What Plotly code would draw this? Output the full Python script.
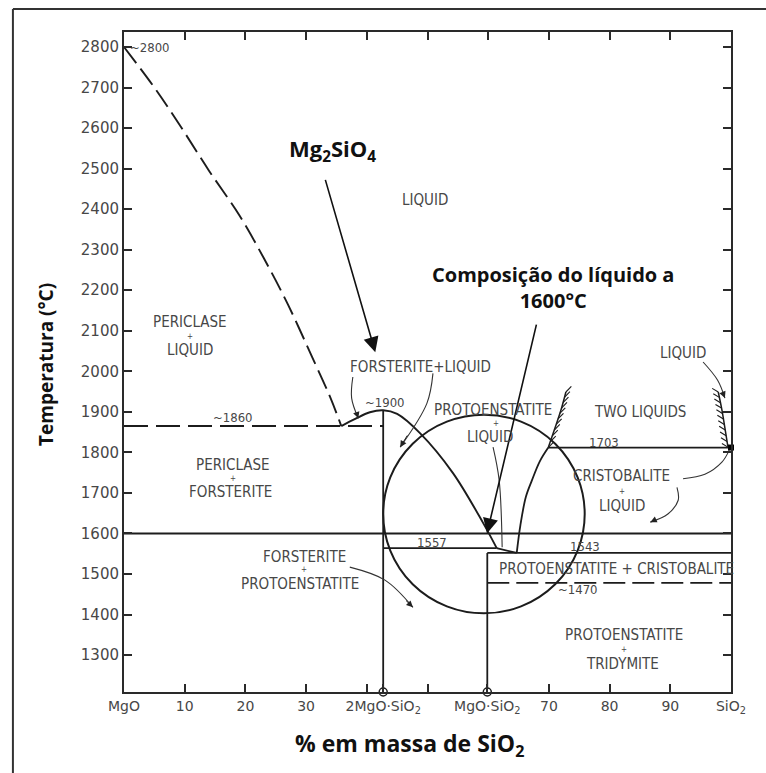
import numpy as np
import plotly.graph_objects as go

# ---------------- axis values ----------------
x_tickvals = [0, 10, 20, 30, 42.7, 59.85, 70, 80, 90, 100]
x_ticktext = ["MgO", "10", "20", "30", "2MgO·SiO<sub>2</sub>", "MgO·SiO<sub>2</sub>",
              "70", "80", "90", "SiO<sub>2</sub>"]
x_minor_ticks = [40, 50]
x_top_ticks = [10, 20, 30, 40, 50, 60, 70, 80, 90]
y_tickvals = list(range(1300, 2900, 100))
x_range = [0, 100]
y_range = [1209, 2837]

# ---------------- compounds ----------------
forsterite_x = 42.7
enstatite_x = 59.85

# ---------------- phase boundaries (wt% SiO2, temperature as drawn) ----------------
periclase_liq_x = [0, 5, 9.5, 14, 19, 23, 27, 31, 34, 35.8]
periclase_liq_t = [2800, 2700, 2600, 2495, 2385, 2280, 2165, 2035, 1935, 1865]

eutectic1_x = [0, 42.7]
eutectic1_t = [1865, 1865]

forst_liq_x = [35.8, 38, 40.5, 42.7, 45, 48.8, 54.2, 59.2, 61.4]
forst_liq_t = [1865, 1882, 1899, 1904, 1895, 1847, 1749, 1625, 1564]

proto_liq_x = [61.4, 64.7]
proto_liq_t = [1564, 1552]

cristo_liq_x = [64.7, 65.3, 66.2, 67.2, 68.5, 69.9]
cristo_liq_t = [1552, 1620, 1690, 1731, 1778, 1812]

iso1600_x = [0, 100]
iso1600_t = [1600, 1600]

peritectic_x = [42.7, 61.4]
peritectic_t = [1564, 1564]

eutectic2_x = [59.85, 100]
eutectic2_t = [1552, 1552]

inversion_x = [59.85, 100]
inversion_t = [1478, 1478]

monotectic_x = [69.9, 100]
monotectic_t = [1812, 1812]

forst_vert_t = [1209, 1904]
enst_vert_t = [1209, 1552]

gap_left_x = [69.9, 71.0, 72.0, 72.8]
gap_left_t = [1812, 1860, 1905, 1949]
gap_right_x = [99.5, 99.0, 98.5, 97.9]
gap_right_t = [1813, 1860, 1905, 1949]

# circle (centre and semi-axes in data units)
circle_cx, circle_ct = 59.3, 1648
circle_rx, circle_rt = 16.6, 245

# ---------------- leader curves ----------------
leaders = [
    ([37.7, 37.5, 38.6], [1986, 1934, 1884]),            # forsterite+liquid (left)
    ([50.9, 49.9, 45.5], [1995, 1921, 1813]),            # forsterite+liquid (right)
    ([60.8, 61.8, 62.3], [1813, 1732, 1566]),            # protoenstatite+liquid
    ([92.1, 95.7, 98.5, 99.7], [1735, 1746, 1776, 1805]), # cristobalite -> 1723
    ([91.1, 91.3, 89.6, 86.7], [1714, 1682, 1648, 1628]), # cristobalite+liquid
    ([95.4, 97.8, 99.0], [2023, 1978, 1934]),            # liquid (near SiO2)
    ([37.2, 43.0, 47.6], [1517, 1485, 1418]),            # forsterite+protoenstatite
]
leader_arrow_idx = [0, 1, 4, 5, 6]

# big arrows: (tip x, tip t, tail x, tail t)
big_arrows = [
    (41.4, 2047, 33.1, 2476),
    (59.8, 1600, 68.0, 2119),
]

# ---------------- labels ----------------
region_labels = [
    ("LIQUID", 49.6, 2422),
    ("PERICLASE", 10.9, 2121), ("LIQUID", 10.9, 2052),
    ("FORSTERITE+LIQUID", 48.8, 2010),
    ("PROTOENSTATITE", 60.8, 1904), ("LIQUID", 60.3, 1838),
    ("TWO LIQUIDS", 85.0, 1899),
    ("LIQUID", 92.1, 2045),
    ("PERICLASE", 18.0, 1768), ("FORSTERITE", 17.5, 1703),
    ("CRISTOBALITE", 82.0, 1741), ("LIQUID", 82.0, 1668),
    ("PROTOENSTATITE + CRISTOBALITE", 81.2, 1512),
    ("FORSTERITE", 29.7, 1543), ("PROTOENSTATITE", 29.0, 1476),
    ("PROTOENSTATITE", 82.4, 1349), ("TRIDYMITE", 82.2, 1278),
]
plus_marks = [(10.9, 2087), (61.3, 1872), (18.0, 1735), (82.0, 1704),
              (29.7, 1510), (82.4, 1313)]
value_labels = [
    ("~1860", 18.0, 1885), ("~1900", 43.0, 1924), ("1557", 50.7, 1579),
    ("1543", 75.9, 1569), ("~1470", 74.8, 1463), ("1703", 79.1, 1825),
]

LINE = "#1c1c1c"
AX = "#2a2a2a"
TXT = "#474747"
TF = "DejaVu Sans Condensed, DejaVu Sans"
NF = "DejaVu Sans"
BF = "Open Sans"

fig = go.Figure()


def add_line(x, y, width=1.8, dash=None, shape="linear", color=LINE):
    fig.add_trace(go.Scatter(x=x, y=y, mode="lines",
                             line=dict(color=color, width=width, dash=dash, shape=shape),
                             hoverinfo="skip", showlegend=False))


# main boundaries
add_line(periclase_liq_x, periclase_liq_t, width=1.9, dash="20px,7px", shape="spline")
add_line(eutectic1_x, eutectic1_t, width=1.9, dash="24px,8px")
add_line(forst_liq_x, forst_liq_t, width=1.9, shape="spline")
add_line(proto_liq_x, proto_liq_t)
add_line(cristo_liq_x, cristo_liq_t, shape="spline")
add_line(iso1600_x, iso1600_t)
add_line(peritectic_x, peritectic_t)
add_line(eutectic2_x, eutectic2_t)
add_line(inversion_x, inversion_t, dash="22px,7px")
add_line(monotectic_x, monotectic_t)
add_line([forsterite_x, forsterite_x], forst_vert_t)
add_line([enstatite_x, enstatite_x], enst_vert_t)
add_line(gap_left_x, gap_left_t, width=1.5, shape="spline")
add_line(gap_right_x, gap_right_t, width=1.5, shape="spline")


# hatching of the miscibility gap
def hatch(xs, ts, dx, dt, n):
    xs = np.array(xs, float)
    ts = np.array(ts, float)
    s = np.linspace(0, 1, n)
    seg = np.linspace(0, 1, len(xs))
    hx, ht = [], []
    for v in s:
        px = np.interp(v, seg, xs)
        pt = np.interp(v, seg, ts)
        hx += [px, px + dx, None]
        ht += [pt, pt + dt, None]
    return hx, ht


hx, ht = hatch(gap_left_x, gap_left_t, 0.9, 14, 11)
add_line(hx, ht, width=1.1)
hx, ht = hatch(gap_right_x, gap_right_t, -1.0, 9, 11)
add_line(hx, ht, width=1.1)

# leaders
for lx, lt in leaders:
    add_line(lx, lt, width=1.1, shape="spline", color="#333333")

# markers
fig.add_trace(go.Scatter(x=[forsterite_x, enstatite_x], y=[y_range[0], y_range[0]],
                         mode="markers", cliponaxis=False,
                         marker=dict(symbol="circle", size=8, color="white",
                                     line=dict(color=LINE, width=1.5)),
                         hoverinfo="skip", showlegend=False))
fig.add_trace(go.Scatter(x=[100], y=[monotectic_t[0]], mode="markers", cliponaxis=False,
                         marker=dict(symbol="square", size=6, color="black"),
                         hoverinfo="skip", showlegend=False))
# dummy trace for the top tick axis
fig.add_trace(go.Scatter(x=[50], y=[2000], xaxis="x2", mode="markers",
                         marker=dict(opacity=0), hoverinfo="skip", showlegend=False))

# circle
fig.add_shape(type="circle", xref="x", yref="y",
              x0=circle_cx - circle_rx, x1=circle_cx + circle_rx,
              y0=circle_ct - circle_rt, y1=circle_ct + circle_rt,
              line=dict(color=LINE, width=2))

# frame (scan border)
fig.add_shape(type="line", xref="paper", yref="paper", x0=-0.183, x1=1.06, y0=1.035, y1=1.035,
              line=dict(color="#333", width=2))
fig.add_shape(type="line", xref="paper", yref="paper", x0=-0.183, x1=-0.183, y0=1.035, y1=-0.13,
              line=dict(color="#333", width=2))

ann = []
for tx, tt, sx, st in big_arrows:
    ann.append(dict(x=tx, y=tt, ax=sx, ay=st, xref="x", yref="y", axref="x", ayref="y",
                    text="", showarrow=True, arrowhead=2, arrowsize=1.9, arrowwidth=1.6,
                    arrowcolor="#111", standoff=0))
for i in leader_arrow_idx:
    lx, lt = leaders[i]
    ann.append(dict(x=lx[-1], y=lt[-1], ax=lx[-1] + (lx[-2] - lx[-1]) * 0.3,
                    ay=lt[-1] + (lt[-2] - lt[-1]) * 0.3,
                    xref="x", yref="y", axref="x", ayref="y", text="", showarrow=True,
                    arrowhead=2, arrowsize=1.3, arrowwidth=1.0, arrowcolor="#222", standoff=0))

for text, x, t in region_labels:
    ann.append(dict(x=x, y=t, text=text, showarrow=False, xref="x", yref="y",
                    font=dict(family=TF, size=15, color=TXT)))
for x, t in plus_marks:
    ann.append(dict(x=x, y=t, text="+", showarrow=False, xref="x", yref="y",
                    font=dict(family=TF, size=8, color=TXT)))
for text, x, t in value_labels:
    ann.append(dict(x=x, y=t, text=text, showarrow=False, xref="x", yref="y",
                    font=dict(family=TF, size=13, color=TXT)))
ann.append(dict(x=0.7, y=2799, text="~2800", showarrow=False, xref="x", yref="y",
                xanchor="left", font=dict(family=TF, size=13, color=TXT)))
ann.append(dict(x=101.1, y=1835, text="1723", showarrow=False, xref="x", yref="y",
                xanchor="left", font=dict(family=TF, size=13, color=TXT)))

# bold explanatory annotations
ann.append(dict(x=34.4, y=2545, text="Mg<sub>2</sub>SiO<sub>4</sub>", showarrow=False,
                xref="x", yref="y", font=dict(family=BF, size=22, color="#111", weight="bold")))
ann.append(dict(x=70.6, y=2208, text="Composição do líquido a<br>1600°C", showarrow=False,
                xref="x", yref="y", align="center",
                font=dict(family=BF, size=20, color="#111", weight="bold")))
# axis titles
ann.append(dict(x=-0.1285, y=0.4955, xref="paper", yref="paper", text="Temperatura (°C)",
                textangle=-90, showarrow=False, xanchor="center", yanchor="middle",
                font=dict(family=BF, size=19, color="#111", weight="bold")))
ann.append(dict(x=0.471, y=-0.0803, xref="paper", yref="paper", text="% em massa de SiO<sub>2</sub>",
                showarrow=False, xanchor="center", yanchor="middle",
                font=dict(family=BF, size=23, color="#111", weight="bold")))

fig.update_layout(
    width=766, height=773,
    margin=dict(l=124, r=35, t=32, b=81),
    paper_bgcolor="white", plot_bgcolor="white", showlegend=False,
    annotations=ann,
    xaxis=dict(range=x_range, tickmode="array", tickvals=x_tickvals, ticktext=x_ticktext,
               ticks="inside", ticklen=8, tickwidth=1.5, tickcolor=AX,
               showline=True, linecolor=AX, linewidth=2, mirror=True,
               showgrid=False, zeroline=False,
               tickfont=dict(family=NF, size=14, color=TXT),
               minor=dict(tickmode="array", tickvals=x_minor_ticks, ticks="inside",
                          ticklen=8, tickwidth=1.5, tickcolor=AX, showgrid=False)),
    xaxis2=dict(range=x_range, overlaying="x", side="top", anchor="y",
                tickmode="array", tickvals=x_top_ticks, ticks="inside", ticklen=8,
                tickwidth=1.5, tickcolor=AX, showticklabels=False,
                showline=False, showgrid=False, zeroline=False),
    yaxis=dict(range=y_range, tickmode="array", tickvals=y_tickvals,
               ticks="inside", ticklen=8, tickwidth=1.5, tickcolor=AX,
               showline=True, linecolor=AX, linewidth=2, mirror="ticks",
               showgrid=False, zeroline=False,
               tickfont=dict(family=NF, size=15, color=TXT)),
)

fig.write_html("out.html")
